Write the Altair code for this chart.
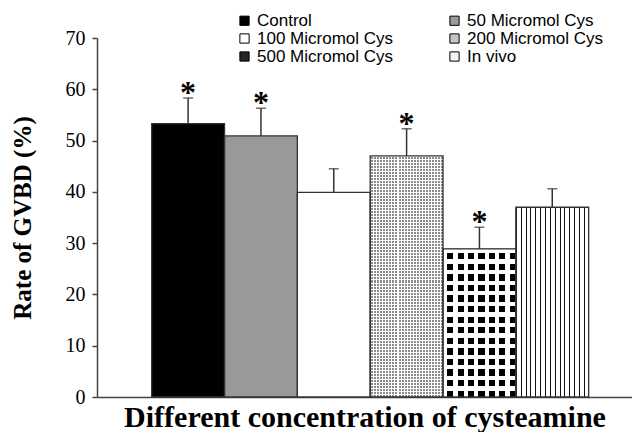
import altair as alt
import pandas as pd

groups = ["Control", "50 Micromol Cys", "100 Micromol Cys",
          "200 Micromol Cys", "500 Micromol Cys", "In vivo"]
means = [53.3, 50.9, 39.9, 47.0, 28.9, 37.0]
upper = [58.3, 56.3, 44.5, 52.3, 33.1, 40.6]
stars = ["*", "*", "", "*", "*", ""]
y_ticks = [0, 10, 20, 30, 40, 50, 60, 70]

# legend is laid out column by column: left column first, then right column
legend_order = ["Control", "100 Micromol Cys", "500 Micromol Cys",
                "50 Micromol Cys", "200 Micromol Cys", "In vivo"]
legend_colors = ["#000000", "#ffffff", "#262626", "#999999", "#c4c4c4", "#f2f2f2"]

df = pd.DataFrame({"group": groups, "mean": means, "upper": upper, "star": stars})

SERIF = "Liberation Serif"
CLEAR = "rgba(255,255,255,0)"


def stripes(n, a, b, frac, along_x=True):
    stops = []
    for i in range(n):
        s = round(i / n, 5)
        m = round((i + frac) / n, 5)
        e = round((i + 1) / n, 5)
        stops += [alt.GradientStop(offset=s, color=a), alt.GradientStop(offset=m, color=a),
                  alt.GradientStop(offset=m, color=b), alt.GradientStop(offset=e, color=b)]
    return alt.LinearGradient(gradient="linear", stops=stops, x1=0, y1=0,
                              x2=1 if along_x else 0, y2=0 if along_x else 1)


x_enc = alt.X("group:N", sort=groups,
              scale=alt.Scale(paddingInner=0, paddingOuter=0.673, align=0.558),
              axis=alt.Axis(labels=False, ticks=False, domainColor="#444", domainWidth=1.5,
                            title="Different concentration of cysteamine",
                            titleFont=SERIF, titleFontSize=30, titleFontWeight="bold",
                            titleColor="black", titlePadding=5))
y_enc = alt.Y("mean:Q", scale=alt.Scale(domain=[0, 70], nice=False),
              axis=alt.Axis(values=y_ticks, grid=False, tickSize=5, tickColor="#444",
                            tickWidth=1.5, domainColor="#444", domainWidth=1.5,
                            labelFont=SERIF, labelFontSize=20, labelColor="black",
                            labelPadding=7,
                            title="Rate of GVBD (%)", titleFont=SERIF, titleFontSize=25,
                            titleFontWeight="bold", titleColor="black", titlePadding=30))

base = alt.Chart(df)

bars = base.mark_bar().encode(
    x=x_enc, y=y_enc,
    color=alt.Color("group:N",
                    scale=alt.Scale(domain=legend_order, range=legend_colors),
                    legend=alt.Legend(title=None, orient="none", legendX=139, legendY=-26,
                                      columns=2, columnPadding=52, rowPadding=0,
                                      symbolType="square", symbolSize=85,
                                      symbolStrokeColor="#000", symbolStrokeWidth=1,
                                      labelFont="Liberation Sans",
                                      labelFontSize=17, labelColor="black", labelOffset=4,
                                      padding=0)),
)


def only(name):
    return base.transform_filter(alt.datum.group == name)


p200 = [
    only("200 Micromol Cys").mark_bar(fill="#8c8c8c").encode(x=x_enc, y=y_enc),
    only("200 Micromol Cys").mark_bar(fill=stripes(24, "#ffffff", CLEAR, 1 / 3, True)).encode(x=x_enc, y=y_enc),
    only("200 Micromol Cys").mark_bar(fill=stripes(80, "#ffffff", CLEAR, 1 / 3, False)).encode(x=x_enc, y=y_enc),
]
p500 = [
    only("500 Micromol Cys").mark_bar(fill="#000000").encode(x=x_enc, y=y_enc),
    only("500 Micromol Cys").mark_bar(fill=stripes(7, "#ffffff", CLEAR, 0.4, True)).encode(x=x_enc, y=y_enc),
    only("500 Micromol Cys").mark_bar(fill=stripes(14, "#ffffff", CLEAR, 0.4, False)).encode(x=x_enc, y=y_enc),
]
pvivo = [
    only("In vivo").mark_bar(fill="#ffffff").encode(x=x_enc, y=y_enc),
    only("In vivo").mark_bar(fill=stripes(15, "#111111", CLEAR, 0.2, True)).encode(x=x_enc, y=y_enc),
]

outline = base.mark_bar(fillOpacity=0, stroke="#333", strokeWidth=1.3).encode(x=x_enc, y=y_enc)

err = base.mark_rule(color="#333", strokeWidth=1.5).encode(x=x_enc, y=y_enc, y2="upper:Q")
caps = base.mark_tick(color="#333", thickness=1.5, size=10).encode(x=x_enc, y="upper:Q")
star_txt = base.transform_filter(alt.datum.star != "").mark_text(
    font=SERIF, fontSize=32, fontWeight="bold", baseline="alphabetic", dy=5, color="black"
).encode(x=x_enc, y="upper:Q", text="star:N")

chart = alt.layer(bars, *p200, *p500, *pvivo, outline, err, caps, star_txt).properties(
    width=535, height=359,
    padding={"left": 2, "top": 4, "right": 0, "bottom": 0},
).configure_view(strokeWidth=0)

chart.save("out.html", embed_options={"renderer": "svg", "actions": False})
